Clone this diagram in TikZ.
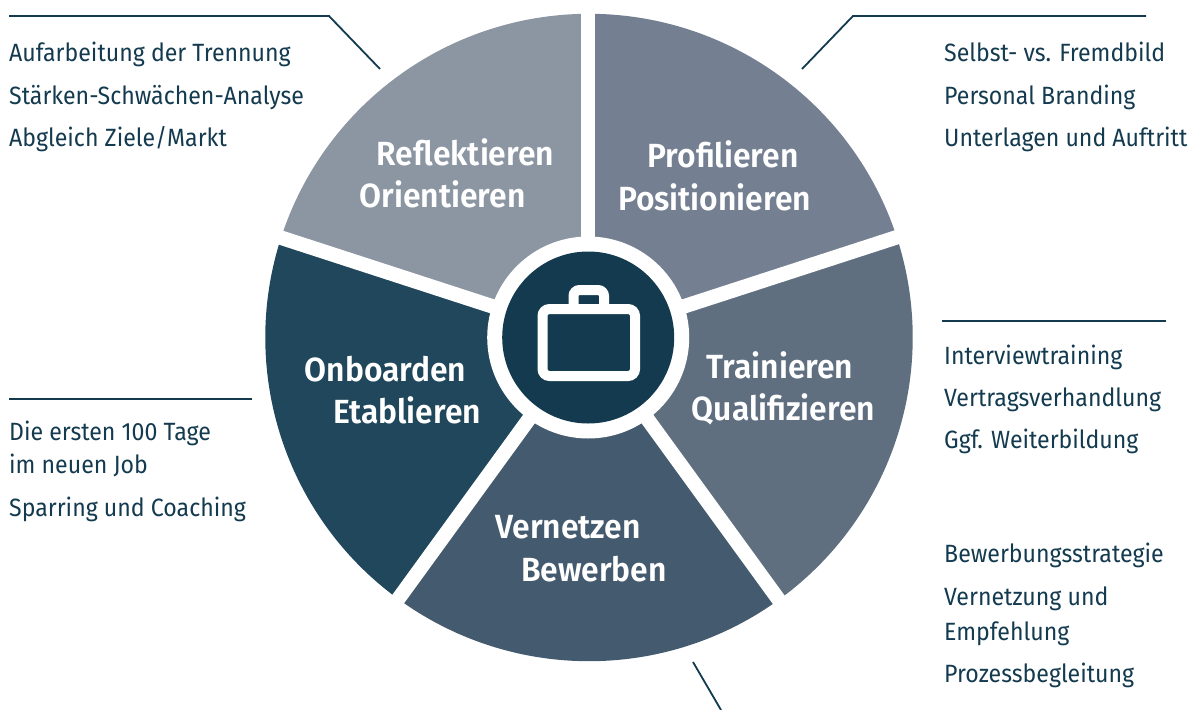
\documentclass[tikz,border=0pt]{standalone}
\usepackage{fontspec}
\setmainfont{Fira Sans}[FakeStretch=0.925]
\newfontfamily\headfont{Fira Sans SemiBold}[FakeStretch=0.95]
\definecolor{ink}{HTML}{133A4F}
\definecolor{segA}{HTML}{8C96A3}
\definecolor{segB}{HTML}{748091}
\definecolor{segC}{HTML}{5F6F80}
\definecolor{segD}{HTML}{445A6E}
\definecolor{segE}{HTML}{20475B}
\tikzset{
  x=1pt,y=-1pt,
  sector/.style={draw=none},
  spoke/.style={draw=white,line width=14.5pt},
  rule/.style={draw=ink,line width=1.8pt},
  item/.style={anchor=base west,inner sep=0pt,text=ink,font=\fontsize{25}{28}\selectfont},
  head/.style={anchor=base,inner sep=0pt,text=white,font=\headfont\fontsize{33.5}{36}\selectfont},
}
\newcommand{\sect}[3]{\fill[sector,#3] (589,337.5) -- ++(#1:323.7pt) arc[start angle=#1,end angle=#2,radius=323.7pt] -- cycle;}
\begin{document}
\begin{tikzpicture}
\useasboundingbox (0,0) rectangle (1198,709);
\sect{18}{90}{segB}
\sect{-54}{18}{segC}
\sect{-126}{-54}{segD}
\sect{162}{234}{segE}
\sect{90}{162}{segA}
\coordinate (hub) at (588.2,337.5);
\foreach \a in {90,18,-54,-126,162}
  \draw[spoke] (hub) -- ++(\a:340pt);
\fill[white] (hub) circle[radius=101pt];
\node[circle,fill=ink,minimum size=172pt,inner sep=0pt] (core) at (hub) {};
% briefcase
\draw[white,line width=10pt,rounded corners=7pt] (542.5,309) rectangle (635,376);
\draw[white,line width=10pt,rounded corners=6pt] (573.5,309) -- (573.5,290) -- (604,290) -- (604,309);
% rules
\coordinate (r1a) at (9,16); \coordinate (r1b) at (329,16); \coordinate (r1c) at (380,69);
\coordinate (r2a) at (1146,16); \coordinate (r2b) at (853,16); \coordinate (r2c) at (802,69);
\coordinate (r3a) at (942,321); \coordinate (r3b) at (1166,321);
\coordinate (r4a) at (9,399); \coordinate (r4b) at (252,399);
\coordinate (r5a) at (693,662); \coordinate (r5b) at (721,710);
\draw[rule] (r1a) -- (r1b) -- (r1c);
\draw[rule] (r2a) -- (r2b) -- (r2c);
\draw[rule] (r3a) -- (r3b);
\draw[rule] (r4a) -- (r4b);
\draw[rule] (r5a) -- (r5b);
% headings
\node[head] (h1a) at (465.5,165) {Reflektieren};
\node[head] (h1b) at (442.5,207) {Orientieren};
\node[head] (h2a) at (723,167) {Profilieren};
\node[head] (h2b) at (714.5,210) {Positionieren};
\node[head] (h3a) at (780,378) {Trainieren};
\node[head] (h3b) at (783.5,420) {Qualifizieren};
\node[head] (h4a) at (385.5,381) {Onboarden};
\node[head] (h4b) at (407,423) {Etablieren};
\node[head] (h5a) at (568,538) {Vernetzen};
\node[head] (h5b) at (594,581) {Bewerben};
% lists
\node[item] (a1) at (9,62) {Aufarbeitung der Trennung};
\node[item] (a2) at (9,104) {Stärken-Schwächen-Analyse};
\node[item] (a3) at (9,146) {Abgleich Ziele/Markt};
\node[item] (b1) at (944,62) {Selbst- vs. Fremdbild};
\node[item] (b2) at (944,104) {Personal Branding};
\node[item] (b3) at (944,146) {Unterlagen und Auftritt};
\node[item] (c1) at (944,364) {Interviewtraining};
\node[item] (c2) at (944,406) {Vertragsverhandlung};
\node[item] (c3) at (944,448) {Ggf. Weiterbildung};
\node[item] (d1) at (944,562) {Bewerbungsstrategie};
\node[item] (d2) at (944,605) {Vernetzung und};
\node[item] (d3) at (944,640) {Empfehlung};
\node[item] (d4) at (944,682) {Prozessbegleitung};
\node[item] (e1) at (9,440) {Die ersten 100 Tage};
\node[item] (e2) at (9,473) {im neuen Job};
\node[item] (e3) at (9,516) {Sparring und Coaching};
\end{tikzpicture}
\end{document}
